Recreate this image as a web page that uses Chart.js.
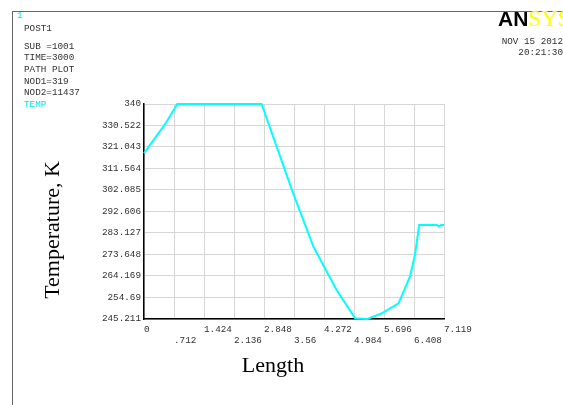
<!DOCTYPE html>
<html>
<head>
<meta charset="utf-8">
<script src="https://cdn.jsdelivr.net/npm/chart.js@4/dist/chart.umd.min.js"></script>
<style>
  html, body { margin: 0; padding: 0; background: #fff; }
  #wrap { position: relative; width: 563px; height: 405px; overflow: hidden; }
  #chart { position: absolute; left: 0; top: 0; }
  .frame { position: absolute; left: 12px; top: 11px; width: 700px; height: 500px;
           border-top: 1px solid #666; border-left: 1px solid #666; }
  .mono { position: absolute; font-family: "Liberation Mono", "DejaVu Sans Mono", monospace;
          font-size: 9.3px; line-height: 12px; color: #333; white-space: pre; }
  .serif { position: absolute; font-family: "Liberation Serif", "DejaVu Serif", serif;
           font-size: 22px; line-height: 1; color: #000; white-space: nowrap; }
</style>
</head>
<body>
<div id="wrap">
  <div class="frame"></div>
  <canvas id="chart" width="563" height="405"></canvas>

  <div class="mono" style="left:17px;top:10px;color:#00e5ee;">1</div>
  <div class="mono" style="left:24px;top:23px;">POST1</div>
  <div class="mono" style="left:24px;top:41px;">SUB =1001</div>
  <div class="mono" style="left:24px;top:52px;">TIME=3000</div>
  <div class="mono" style="left:24px;top:64px;">PATH PLOT</div>
  <div class="mono" style="left:24px;top:76px;">NOD1=319</div>
  <div class="mono" style="left:24px;top:87px;">NOD2=11437</div>
  <div class="mono" style="left:24px;top:99px;color:#00e5ee;">TEMP</div>

  <div style="position:absolute;left:498px;top:9px;line-height:20px;white-space:nowrap;">
    <span style="font-family:'Liberation Sans',Arial,sans-serif;font-weight:bold;font-size:21px;color:#000;">AN</span><span style="font-family:'Liberation Serif',serif;font-size:23px;color:#ffff00;">SYS</span>
  </div>
  <div class="mono" style="right:0;top:36px;text-align:right;">NOV 15 2012</div>
  <div class="mono" style="right:0;top:47px;text-align:right;">20:21:30</div>

  <div class="serif" style="left:52px;top:230px;transform:translate(-50%,-50%) rotate(-90deg);">Temperature, K</div>
  <div class="serif" style="left:273px;top:365px;transform:translate(-50%,-50%);">Length</div>
</div>

<script>
// path plot: temperature along the path
const lengthVals = [0, 0.50, 0.79, 2.79, 3.54, 4.02, 4.57, 5.01, 5.30, 5.62, 6.04, 6.31, 6.43, 6.53, 6.95, 7.00, 7.05, 7.119];
const tempVals   = [318.3, 331.1, 340, 340, 300.6, 277.1, 258.0, 245.5, 245.25, 247.5, 252.1, 263.9, 273.4, 286.6, 286.6, 286.1, 286.6, 286.6];

// tick values and their labels as printed
const xTicks = [0, 0.712, 1.424, 2.136, 2.848, 3.56, 4.272, 4.984, 5.696, 6.408, 7.119];
const xTickLabels = ['0', '.712', '1.424', '2.136', '2.848', '3.56', '4.272', '4.984', '5.696', '6.408', '7.119'];
const yTicks = [245.211, 254.69, 264.169, 273.648, 283.127, 292.606, 302.085, 311.564, 321.043, 330.522, 340];
const yTickLabels = ['245.211', '254.69', '264.169', '273.648', '283.127', '292.606', '302.085', '311.564', '321.043', '330.522', '340'];

const points = lengthVals.map((x, i) => ({ x: x, y: tempVals[i] }));
const tickFont = { family: '"Liberation Mono", "DejaVu Sans Mono", monospace', size: 9.3 };

new Chart(document.getElementById('chart').getContext('2d'), {
    type: 'line',
    data: {
        datasets: [{
            data: points,
            borderColor: '#00ffff',
            borderWidth: 2,
            pointRadius: 0,
            tension: 0,
            fill: false,
            clip: false
        }]
    },
    options: {
        responsive: false,
        animation: false,
        events: [],
        layout: { padding: { left: 0, top: 104, right: 119, bottom: 0 } },
        plugins: { legend: { display: false }, tooltip: { enabled: false } },
        scales: {
            x: {
                type: 'linear',
                min: 0,
                max: 7.119,
                afterBuildTicks: s => { s.ticks = xTicks.map(v => ({ value: v })); },
                afterFit: s => { s.height = 86; },
                grid: { color: '#d6d6d6', lineWidth: 1, drawTicks: false },
                border: { color: '#000', width: 1.5 },
                ticks: {
                    autoSkip: false,
                    maxRotation: 0,
                    align: 'start',
                    padding: 5,
                    color: '#333',
                    font: tickFont,
                    // alternate labels on two rows
                    callback: (v, i) => i % 2 === 0 ? [xTickLabels[i], ''] : ['', xTickLabels[i]]
                }
            },
            y: {
                min: 245.211,
                max: 340,
                afterBuildTicks: s => { s.ticks = yTicks.map(v => ({ value: v })); },
                afterFit: s => { s.width = 144; },
                grid: { color: '#d6d6d6', lineWidth: 1, drawTicks: false },
                border: { color: '#000', width: 1.5 },
                ticks: {
                    padding: 3,
                    color: '#333',
                    font: tickFont,
                    callback: (v, i) => yTickLabels[i]
                }
            }
        }
    }
});
</script>
</body>
</html>
